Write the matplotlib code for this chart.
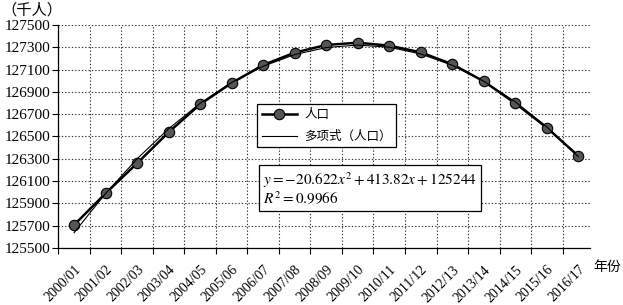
import matplotlib
matplotlib.use('Agg')
import matplotlib.pyplot as plt
import numpy as np

# data
years = ['2000/01', '2001/02', '2002/03', '2003/04', '2004/05', '2005/06',
         '2006/07', '2007/08', '2008/09', '2009/10', '2010/11', '2011/12',
         '2012/13', '2013/14', '2014/15', '2015/16', '2016/17']
population = [125706, 125990, 126260, 126538, 126789, 126980, 127141, 127252,
              127321, 127341, 127315, 127255, 127148, 126995, 126798, 126579,
              126325]
trend_coef = [-20.622, 413.82, 125244]
y_ticks = list(range(125500, 127501, 200))

plt.rcParams['mathtext.fontset'] = 'stix'
SERIF = 'Liberation Serif'
CJK = ['Noto Sans CJK SC', 'DejaVu Sans']

fig = plt.figure(figsize=(6.23, 3.05), dpi=100)
ax = fig.add_axes([0.0936, 0.187, 0.947 - 0.0936, 0.918 - 0.187])

x = np.arange(len(years))
trend = np.polyval(trend_coef, x + 1)

ax.plot(x, population, color='black', lw=1.8, marker='o', ms=7.5,
        mfc='#555555', mec='black', mew=0.8, label='人口', zorder=3)
ax.plot(x, trend, color='black', lw=0.8, label='多项式（人口）', zorder=4)

ax.set_xlim(-0.5, 16.37)
ax.set_ylim(125500, 127500)

# category boundaries carry the ticks and grid, labels sit at the centres
ax.set_xticks(np.arange(-0.5, 16.0, 1.0))
ax.set_xticklabels([])
ax.set_xticks(x, minor=True)
ax.set_xticklabels(years, minor=True, rotation=45, ha='right',
                   rotation_mode='anchor', fontfamily=SERIF, fontsize=10)
ax.tick_params(axis='x', which='minor', length=0, pad=11)
ax.tick_params(axis='x', which='major', length=4, direction='out', width=0.8)

ax.set_yticks(y_ticks)
ax.set_yticklabels([str(v) for v in y_ticks], fontfamily=SERIF, fontsize=11)
ax.tick_params(axis='y', length=4, direction='out', width=0.8, pad=2)

ax.grid(True, which='major', color='#333333', ls=(0, (1.2, 1.8)), lw=0.8)
ax.set_axisbelow(True)
for side in ['top', 'right']:
    ax.spines[side].set_visible(False)
ax.spines['left'].set_linewidth(0.9)
ax.spines['bottom'].set_linewidth(0.9)

leg = ax.legend(loc='upper left', bbox_to_anchor=(0.374, 0.646),
                borderaxespad=0, fancybox=False, edgecolor='black',
                framealpha=1, prop={'family': CJK, 'size': 9},
                handlelength=2.8, handletextpad=0.6, labelspacing=0.7,
                borderpad=0.35)
leg.get_frame().set_linewidth(0.9)

eq = r'$y=-20.622x^2+413.82x+125244$' + '\n' + r'$R^2=0.9966$'
ax.text(0.385, 0.348, eq, transform=ax.transAxes, va='top', ha='left',
        fontsize=11, linespacing=1.0, zorder=6,
        bbox=dict(boxstyle='square,pad=0.25', fc='white', ec='black', lw=0.9))

fig.text(0.003, 0.995, '（千人）', family=CJK, fontsize=11, va='top', ha='left')
fig.text(0.953, 0.125, '年份', family=CJK, fontsize=10, va='center', ha='left')

fig.savefig('out.png', dpi=100)
